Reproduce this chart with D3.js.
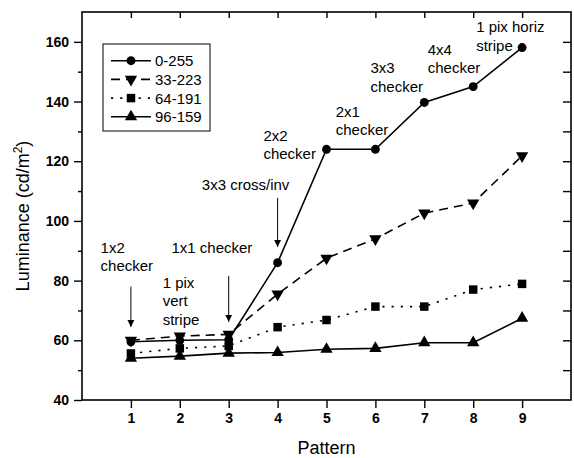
<!DOCTYPE html>
<html>
<head>
<meta charset="utf-8">
<script src="https://cdn.jsdelivr.net/npm/d3@7"></script>
<style>
  body { margin: 0; background: #fff; }
  svg { display: block; font-family: "Liberation Sans", Arial, sans-serif; }
</style>
</head>
<body>
<svg width="574" height="458"></svg>
<script>
// data
const patterns = [1, 2, 3, 4, 5, 6, 7, 8, 9];
const seriesNames = ['0-255', '33-223', '64-191', '96-159'];
const lum0_255 = [59.5, 60, 60.2, 86, 124, 124, 139.7, 145, 158.1];
const lum33_223 = [60, 61.4, 62, 75.5, 87.5, 94, 102.6, 106, 121.8];
const lum64_191 = [55.6, 57.3, 58.1, 64.4, 66.8, 71.3, 71.3, 77, 78.9];
const lum96_159 = [54, 54.7, 55.7, 55.9, 57, 57.3, 59.2, 59.2, 67.4];
const yTicks = [40, 60, 80, 100, 120, 140, 160];

// annotation labels, anchored in data units (pattern, luminance)
const notes = [
    { lines: ['1x2', 'checker'], x: 0.38, y: 91 },
    { lines: ['1 pix', 'vert', 'stripe'], x: 1.65, y: 79.3 },
    { lines: ['1x1 checker'], x: 1.83, y: 91 },
    { lines: ['3x3 cross/inv'], x: 2.45, y: 112.1 },
    { lines: ['2x2', 'checker'], x: 3.71, y: 128.6 },
    { lines: ['2x1', 'checker'], x: 5.19, y: 136.6 },
    { lines: ['3x3', 'checker'], x: 5.9, y: 151.2 },
    { lines: ['4x4', 'checker'], x: 7.07, y: 157.3 },
    { lines: ['1 pix horiz', 'stripe'], x: 8.06, y: 164.9 }
];
// arrows: pattern, from luminance, to luminance
const arrows = [
    { x: 1, from: 78, to: 64.5 },
    { x: 3, from: 81.6, to: 66.2 },
    { x: 4, from: 107.7, to: 91.3 }
];

const series = [
    { name: seriesNames[0], values: lum0_255, symbol: d3.symbolCircle, size: 62, rotate: 0, dash: null },
    { name: seriesNames[1], values: lum33_223, symbol: d3.symbolTriangle, size: 66, rotate: 180, dash: '9,6' },
    { name: seriesNames[2], values: lum64_191, symbol: d3.symbolSquare, size: 72, rotate: 0, dash: '2.2,7' },
    { name: seriesNames[3], values: lum96_159, symbol: d3.symbolTriangle, size: 66, rotate: 0, dash: null }
];

const pLeft = 82, pRight = 571, pTop = 12, pBottom = 400;
const svg = d3.select('svg');

const xScale = d3.scaleLinear().domain([0, 10]).range([pLeft, pRight]);
const yScale = d3.scaleLinear().domain([40, 170]).range([pBottom, pTop]);

// frame
svg.append('rect')
    .attr('x', pLeft).attr('y', pTop)
    .attr('width', pRight - pLeft).attr('height', pBottom - pTop)
    .attr('fill', 'none').attr('stroke', '#000').attr('stroke-width', 1.6);

// bottom axis
let xAxis = svg.append('g')
    .attr('transform', `translate(0,${pBottom})`)
    .call(d3.axisBottom(xScale).tickValues(patterns).tickSize(8).tickSizeOuter(0).tickPadding(5));
xAxis.select('.domain').remove();
xAxis.selectAll('.tick line').attr('stroke-width', 1.4);
xAxis.selectAll('.tick text')
    .attr('font-size', 14).attr('font-weight', 'bold')
    .attr('font-family', '"Liberation Sans", Arial, sans-serif').attr('fill', '#000');

// top mirror ticks
let xTop = svg.append('g')
    .attr('transform', `translate(0,${pTop})`)
    .call(d3.axisTop(xScale).tickValues(patterns).tickSize(-6).tickSizeOuter(0).tickFormat(''));
xTop.select('.domain').remove();
xTop.selectAll('.tick line').attr('stroke-width', 1.4);

// left axis, major + minor
let yAxis = svg.append('g')
    .attr('transform', `translate(${pLeft},0)`)
    .call(d3.axisLeft(yScale).tickValues(yTicks).tickSize(8).tickSizeOuter(0).tickPadding(5));
yAxis.select('.domain').remove();
yAxis.selectAll('.tick line').attr('stroke-width', 1.4);
yAxis.selectAll('.tick text')
    .attr('font-size', 14).attr('font-weight', 'bold')
    .attr('font-family', '"Liberation Sans", Arial, sans-serif').attr('fill', '#000');

let yMinor = svg.append('g')
    .attr('transform', `translate(${pLeft},0)`)
    .call(d3.axisLeft(yScale).tickValues(d3.range(50, 170, 20)).tickSize(4).tickSizeOuter(0).tickFormat(''));
yMinor.select('.domain').remove();
yMinor.selectAll('.tick line').attr('stroke-width', 1.4);

// right mirror ticks
let yRight = svg.append('g')
    .attr('transform', `translate(${pRight},0)`)
    .call(d3.axisRight(yScale).tickValues(d3.range(50, 170, 10)).tickSize(-8).tickSizeOuter(0).tickFormat(''));
yRight.select('.domain').remove();
yRight.selectAll('.tick line').attr('stroke-width', 1.4);

// axis titles
svg.append('text')
    .attr('x', (pLeft + pRight) / 2).attr('y', 454)
    .attr('text-anchor', 'middle').attr('font-size', 18)
    .text('Pattern');

const yTitle = svg.append('text')
    .attr('transform', `translate(29,${(pTop + pBottom) / 2 + 10}) rotate(-90)`)
    .attr('text-anchor', 'middle').attr('font-size', 18);
yTitle.append('tspan').text('Luminance (cd/m');
yTitle.append('tspan').attr('font-size', 12).attr('dy', -7).text('2');
yTitle.append('tspan').attr('dy', 7).text(')');

// lines + markers
const line = d3.line()
    .x((d, i) => xScale(patterns[i]))
    .y(d => yScale(d));

series.forEach(s => {
    svg.append('path')
        .datum(s.values)
        .attr('d', line)
        .attr('fill', 'none')
        .attr('stroke', '#000')
        .attr('stroke-width', 1.6)
        .attr('stroke-dasharray', s.dash);
});
series.forEach(s => {
    svg.append('g')
        .selectAll('path')
        .data(s.values)
        .join('path')
        .attr('d', d3.symbol(s.symbol, s.size))
        .attr('transform', (d, i) => `translate(${xScale(patterns[i])},${yScale(d)}) rotate(${s.rotate})`)
        .attr('fill', '#000');
});

// annotations
notes.forEach(n => {
    const t = svg.append('text')
        .attr('font-size', 15)
        .attr('x', xScale(n.x))
        .attr('y', yScale(n.y) + 5);
    n.lines.forEach((l, i) => {
        t.append('tspan')
            .attr('x', xScale(n.x))
            .attr('dy', i === 0 ? 0 : 18.5)
            .text(l);
    });
});

svg.append('defs').append('marker')
    .attr('id', 'head')
    .attr('viewBox', '0 0 10 10')
    .attr('refX', 10).attr('refY', 5)
    .attr('markerWidth', 7).attr('markerHeight', 8)
    .attr('markerUnits', 'userSpaceOnUse')
    .attr('orient', 'auto')
    .append('path')
    .attr('d', 'M0,0 L10,5 L0,10 Z')
    .attr('fill', '#000');

svg.append('g')
    .selectAll('line')
    .data(arrows)
    .join('line')
    .attr('x1', d => xScale(d.x)).attr('x2', d => xScale(d.x))
    .attr('y1', d => yScale(d.from)).attr('y2', d => yScale(d.to))
    .attr('stroke', '#000').attr('stroke-width', 1)
    .attr('marker-end', 'url(#head)');

// legend
const lg = svg.append('g').attr('transform', 'translate(103,44)');
lg.append('rect')
    .attr('width', 107).attr('height', 87)
    .attr('fill', '#fff').attr('stroke', '#000').attr('stroke-width', 1);
series.forEach((s, i) => {
    const row = lg.append('g').attr('transform', `translate(0,${16.7 + i * 18.7})`);
    row.append('line')
        .attr('x1', 8).attr('x2', 48)
        .attr('stroke', '#000').attr('stroke-width', 1.6)
        .attr('stroke-dasharray', s.dash);
    row.append('path')
        .attr('d', d3.symbol(s.symbol, s.size))
        .attr('transform', `translate(28,0) rotate(${s.rotate})`)
        .attr('fill', '#000');
    row.append('text')
        .attr('x', 52).attr('y', 5.5)
        .attr('font-size', 15)
        .text(s.name);
});
</script>
</body>
</html>
